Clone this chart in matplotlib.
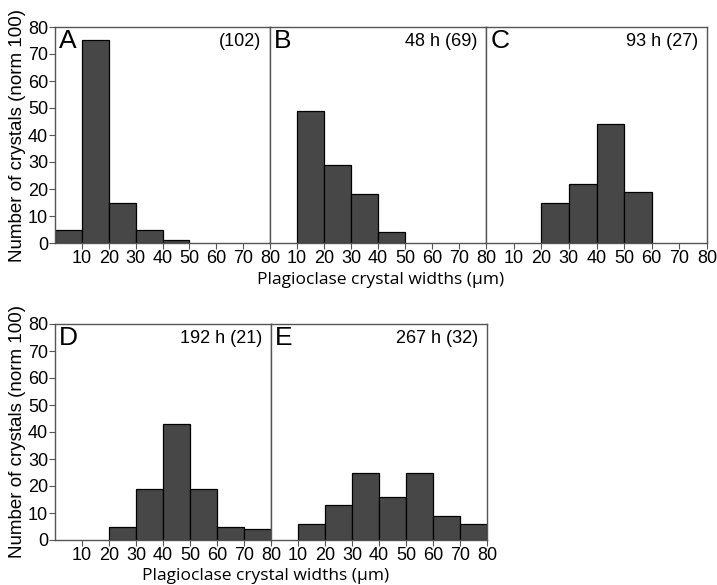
import numpy as np
import matplotlib
matplotlib.use('Agg')
import matplotlib.pyplot as plt

plt.rcParams['font.family'] = ['Liberation Sans', 'DejaVu Sans']

# bin edges (um) and normalised counts per panel
bin_edges = [0, 10, 20, 30, 40, 50, 60, 70, 80]
counts_A = [5, 75, 15, 5, 1, 0, 0, 0]
counts_B = [0, 49, 29, 18, 4, 0, 0, 0]
counts_C = [0, 0, 15, 22, 44, 19, 0, 0]
counts_D = [0, 0, 5, 19, 43, 19, 5, 4]
counts_E = [0, 6, 13, 25, 16, 25, 9, 6]

letters = ['A', 'B', 'C', 'D', 'E']
notes = ['(102)', '48 h (69)', '93 h (27)', '192 h (21)', '267 h (32)']
all_counts = [counts_A, counts_B, counts_C, counts_D, counts_E]

xticks = [10, 20, 30, 40, 50, 60, 70, 80]
yticks = [0, 10, 20, 30, 40, 50, 60, 70, 80]

W, H = 717, 585
fig = plt.figure(figsize=(W / 100, H / 100), dpi=100)

# panel boxes in pixels: (left, right, top, bottom)
boxes = [(55, 270, 27, 243), (270, 486, 27, 243), (486, 707, 27, 243),
         (55, 271, 324, 540), (271, 487, 324, 540)]

spine_col = '#555555'
for i, (l, r, t, b) in enumerate(boxes):
    ax = fig.add_axes([l / W, 1 - b / H, (r - l) / W, (b - t) / H])
    cnt = np.array(all_counts[i])
    lefts = np.array(bin_edges[:-1])
    keep = cnt > 0
    ax.bar(lefts[keep], cnt[keep], width=10, align='edge', color='#474747',
           edgecolor='black', linewidth=0.9)
    ax.set_xlim(0, 80)
    ax.set_ylim(0, 80)
    ax.set_xticks(xticks)
    ax.tick_params(axis='x', direction='out', length=4, width=0.8, color=spine_col,
                   labelsize=13, pad=1)
    if i in (0, 3):
        ax.set_yticks(yticks)
        ax.tick_params(axis='y', direction='out', length=4, width=0.8, color=spine_col,
                       labelsize=13, pad=1)
        ax.set_ylabel('Number of crystals (norm 100)', fontsize=13.5, labelpad=1)
    else:
        ax.set_yticks([])
    for s in ax.spines.values():
        s.set_color(spine_col)
        s.set_linewidth(1.0)
    ax.text(0.02, 0.99, letters[i], transform=ax.transAxes, fontsize=19,
            ha='left', va='top')
    ax.text(0.96, 0.97, notes[i], transform=ax.transAxes, fontsize=13,
            ha='right', va='top')

fig.text(381 / W, 1 - 280 / H, 'Plagioclase crystal widths (\u03bcm)', fontsize=12.5,
         ha='center', va='center', family=['Open Sans', 'DejaVu Sans'])
fig.text(266 / W, 1 - 576 / H, 'Plagioclase crystal widths (\u03bcm)', fontsize=12.5,
         ha='center', va='center', family=['Open Sans', 'DejaVu Sans'])

fig.savefig('out.png', dpi=100)
